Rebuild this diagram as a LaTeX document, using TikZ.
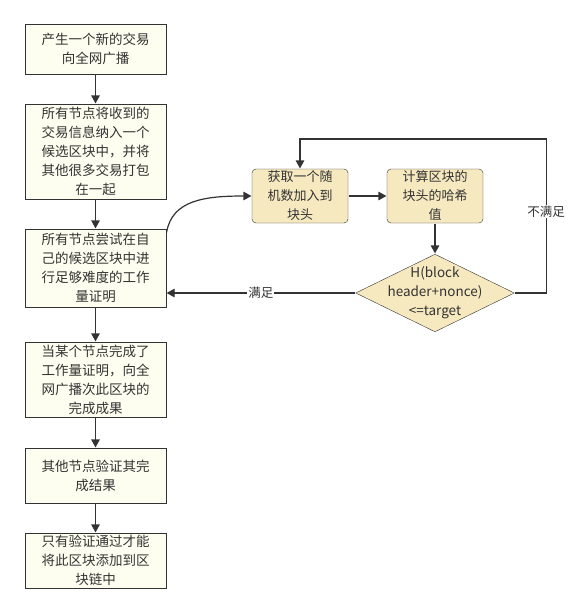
\documentclass[tikz,border=0pt]{standalone}
\usepackage{fontspec}
\setmainfont{Noto Sans CJK SC}
\usetikzlibrary{shapes.geometric,arrows.meta}
\definecolor{ivory}{HTML}{FEFEF0}
\definecolor{wheatbox}{HTML}{F6E9BF}
\definecolor{ink}{HTML}{333333}
\begin{document}
\begin{tikzpicture}[x=1pt,y=-1pt]
\tikzset{ >={Triangle[length=8pt,width=8.5pt]}, line width=1.2pt, draw=ink,
  leftbox/.style={draw=ink, fill=ivory, minimum width=141pt, text width=120pt, align=center,
    inner sep=0pt, font=\fontsize{13.5}{19}\selectfont, text=ink},
  rightbox/.style={draw=ink, fill=wheatbox, rounded corners=4pt, minimum width=96pt, minimum height=54pt,
    text width=80pt, align=center, inner sep=0pt, font=\fontsize{13}{19}\selectfont, text=ink},
  decision/.style={draw=ink, fill=wheatbox, diamond, minimum width=159pt, minimum height=78pt,
    inner sep=0pt, font=\fontsize{13.5}{19}\selectfont, text=ink},
  flow/.style={->, draw=ink, line width=1.2pt},
  lbl/.style={fill=white, text=ink, font=\fontsize{12.5}{14}\selectfont, inner sep=1pt},
}
\useasboundingbox (0,0) rectangle (579,613);

% left column
\node [leftbox, minimum height=50pt] (new)    at (95.5,49)    {产生一个新的交易\\向全网广播};
\node [leftbox, minimum height=95pt] (pack)   at (95.5,151.5) {所有节点将收到的\\交易信息纳入一个\\候选区块中，并将\\其他很多交易打包\\在一起};
\node [leftbox, minimum height=78pt] (pow)    at (95.5,268)   {所有节点尝试在自\\己的候选区块中进\\行足够难度的工作\\量证明};
\node [leftbox, minimum height=75pt] (done)   at (95.5,379.5) {当某个节点完成了\\工作量证明，向全\\网广播次此区块的\\完成成果};
\node [leftbox, minimum height=55pt] (verify) at (95.5,475.5) {其他节点验证其完\\成结果};
\node [leftbox, minimum height=55pt] (chain)  at (95.5,560.5) {只有验证通过才能\\将此区块添加到区\\块链中};

% right loop
\node [rightbox] (nonce) at (300,196) {获取一个随\\机数加入到\\块头};
\node [rightbox] (hash)  at (435,196) {计算区块的\\块头的哈希\\值};
\node [decision] (check) at (435,293)
  {\makebox[0pt]{\begin{tabular}{@{}c@{}}H(block\\header+nonce)\\<=target\end{tabular}}};

\draw [flow] (new)    -- (pack);
\draw [flow] (pack)   -- (pow);
\draw [flow] (pow)    -- (done);
\draw [flow] (done)   -- (verify);
\draw [flow] (verify) -- (chain);

\draw [flow] ([yshift=-4pt]pow.north east) .. controls (172,200) and (205,196) .. (nonce.west);
\draw [flow] (nonce) -- (hash);
\draw [flow] (hash)  -- (check);

\draw [flow] (check.west) -- node [lbl] {满足} (pow.east |- check.west);
\draw [flow] (check.east) -- ++(31,0)
  -- node [lbl, pos=0.53] {不满足} ++(0,-154)
  -| (nonce.north);

\end{tikzpicture}
\end{document}
